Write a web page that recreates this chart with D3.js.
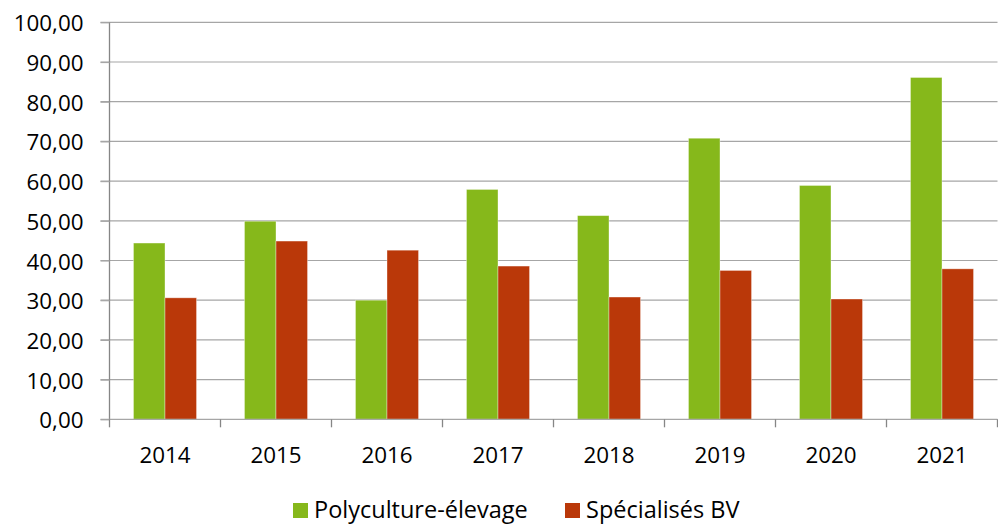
<!DOCTYPE html>
<html>
<head>
<meta charset="utf-8">
<script src="https://cdn.jsdelivr.net/npm/d3@7"></script>
<style>
  body { margin: 0; background: #fff; }
  svg { display: block; font-family: "Open Sans", sans-serif; }
</style>
</head>
<body>
<svg width="998" height="524"></svg>
<script>
const years = ['2014', '2015', '2016', '2017', '2018', '2019', '2020', '2021']
const seriesNames = ['Polyculture-élevage', 'Spécialisés BV']
const polyculture = [44.4, 49.9, 30.0, 57.9, 51.3, 70.8, 58.9, 86.1]
const specialises = [30.6, 44.9, 42.6, 38.6, 30.8, 37.5, 30.3, 37.9]
const yTicks = [0, 10, 20, 30, 40, 50, 60, 70, 80, 90, 100]
const colors = ['#86b81b', '#ba3809']

const svg = d3.select('svg')
const plotLeft = 109.5, plotRight = 997.5, plotTop = 22.3, plotBottom = 419.3
const fontSize = 22.4

const x = d3.scaleBand().domain(years).range([plotLeft, plotRight])
const inner = d3.scaleBand().domain(seriesNames).range([0, x.bandwidth()]).paddingOuter(0.76)
const y = d3.scaleLinear().domain([0, 100]).range([plotBottom, plotTop])
const fmt = v => d3.format('.2f')(v).replace('.', ',')

// grid lines
svg.append('g')
  .selectAll('line')
  .data(yTicks.slice(1))
  .join('line')
  .attr('x1', plotLeft - 9).attr('x2', plotRight)
  .attr('y1', d => y(d)).attr('y2', d => y(d))
  .attr('stroke', '#a6a6a6').attr('stroke-width', 1.2)

// bars
const rows = years.map((yr, i) => ({ year: yr, vals: [polyculture[i], specialises[i]] }))
svg.append('g')
  .selectAll('g')
  .data(rows)
  .join('g')
  .attr('transform', d => `translate(${x(d.year)},0)`)
  .selectAll('rect')
  .data(d => d.vals.map((v, j) => ({ name: seriesNames[j], v, j })))
  .join('rect')
  .attr('x', d => inner(d.name))
  .attr('width', inner.bandwidth())
  .attr('y', d => y(d.v))
  .attr('height', d => plotBottom - y(d.v))
  .attr('fill', d => colors[d.j])
  .attr('stroke', 'rgba(255,255,255,0.45)')
  .attr('stroke-width', 0.8)

// y axis
const yAxis = svg.append('g')
  .attr('transform', `translate(${plotLeft},0)`)
  .call(d3.axisLeft(y).tickValues(yTicks).tickFormat(fmt).tickSize(9).tickPadding(17))
yAxis.select('.domain').attr('stroke', '#868686').attr('stroke-width', 1.3).attr('d', `M0,${plotTop}V${plotBottom}`)
yAxis.selectAll('.tick line').attr('stroke', '#a6a6a6').attr('stroke-width', 1.2)
yAxis.selectAll('text')
  .attr('font-size', fontSize).attr('fill', '#000')
  .attr('font-family', '"Open Sans"').attr('dy', '0.38em')

// x axis
const xAxis = svg.append('g')
  .attr('transform', `translate(0,${plotBottom})`)
  .call(d3.axisBottom(x).tickSize(0))
xAxis.select('.domain').attr('stroke', '#a6a6a6').attr('stroke-width', 1.3).attr('d', `M${plotLeft - 9},0H${plotRight}`)
xAxis.selectAll('text')
  .attr('font-size', fontSize).attr('fill', '#000')
  .attr('font-family', '"Open Sans"').attr('y', 44).attr('dy', 0)
svg.append('g')
  .selectAll('line')
  .data(years.concat(['end']))
  .join('line')
  .attr('x1', d => d === 'end' ? plotRight : x(d))
  .attr('x2', d => d === 'end' ? plotRight : x(d))
  .attr('y1', plotBottom).attr('y2', plotBottom + 8)
  .attr('stroke', '#868686').attr('stroke-width', 1.3)

// legend
const legendX = [293, 565]
const legend = svg.append('g')
  .selectAll('g')
  .data(seriesNames)
  .join('g')
  .attr('transform', (d, i) => `translate(${legendX[i]},503)`)
legend.append('rect')
  .attr('width', 15).attr('height', 15)
  .attr('fill', (d, i) => colors[i])
legend.append('text')
  .attr('x', 21).attr('y', 15)
  .attr('font-size', 23.5)
  .text(d => d)
</script>
</body>
</html>
